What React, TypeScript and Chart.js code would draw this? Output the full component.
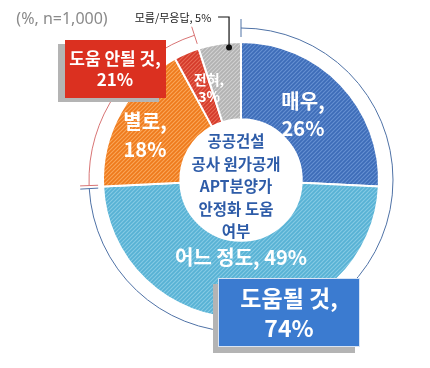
import React, { useEffect, useRef } from 'react';
import { Chart, registerables } from 'chart.js';

Chart.register(...registerables);

const categories = ['매우', '어느 정도', '별로', '전혀', '모름/무응답'];
const values = [26, 49, 18, 3, 5];
const groups = ['도움될 것', '도움 안될 것'];
const groupValues = [74, 21];
const note = '(%, n=1,000)';
const centerTitle = ['공공건설', '공사 원가공개', 'APT분양가', '안정화 도움', '여부'];

const baseColors = ['#3d6cb8', '#57b2d4', '#ee7a1c', '#d43a2a', '#b2b2b2'];
const stripeColors = ['#6690d2', '#86cbe4', '#faa75a', '#e86a55', '#d2d2d2'];

const FONT = '"Noto Sans CJK KR", "Noto Sans", sans-serif';

function makePattern(base: string, stripe: string) {
  const s = 4;
  const c = document.createElement('canvas');
  c.width = s;
  c.height = s;
  const g = c.getContext('2d')!;
  g.fillStyle = base;
  g.fillRect(0, 0, s, s);
  g.strokeStyle = stripe;
  g.lineWidth = 1.1;
  const seg = (x0: number, y0: number, x1: number, y1: number) => {
    g.beginPath();
    g.moveTo(x0, y0);
    g.lineTo(x1, y1);
    g.stroke();
  };
  seg(-1, s + 1, s + 1, -1);
  seg(-1, 1, 1, -1);
  seg(s - 1, s + 1, s + 1, s - 1);
  return g.createPattern(c, 'repeat') as CanvasPattern;
}

const outerArcs = {
  id: 'outerArcs',
  afterDatasetsDraw(chart: any) {
    const arcs = chart.getDatasetMeta(0).data;
    if (!arcs.length) return;
    const p0 = arcs[0].getProps(['x', 'y', 'outerRadius'], true);
    const x = p0.x;
    const y = p0.y;
    const R = p0.outerRadius;
    const r = R + 14;
    const ctx = chart.ctx;
    const ang = (i: number, k: string) => arcs[i].getProps([k], true)[k];
    const draw = (a0: number, a1: number, color: string) => {
      ctx.save();
      ctx.strokeStyle = color;
      ctx.lineWidth = 1;
      ctx.beginPath();
      ctx.arc(x, y, r, a0, a1);
      ctx.stroke();
      for (const a of [a0, a1]) {
        ctx.beginPath();
        ctx.moveTo(x + Math.cos(a) * (r - 9), y + Math.sin(a) * (r - 9));
        ctx.lineTo(x + Math.cos(a) * (r + 9), y + Math.sin(a) * (r + 9));
        ctx.stroke();
      }
      ctx.restore();
    };
    draw(ang(0, 'startAngle'), ang(1, 'endAngle') - 0.01, '#4f72a6');
    draw(ang(2, 'startAngle') + 0.01, ang(3, 'endAngle'), '#d87474');

    // leader for the small gray slice
    const a = ang(4, 'endAngle') - 0.09;
    const dx = x + Math.cos(a) * (R - 5);
    const dy = y + Math.sin(a) * (R - 5);
    ctx.save();
    ctx.strokeStyle = '#111';
    ctx.lineWidth = 1.2;
    ctx.beginPath();
    ctx.moveTo(dx - 11, 17);
    ctx.lineTo(dx, 17);
    ctx.lineTo(dx, dy);
    ctx.stroke();
    ctx.fillStyle = '#111';
    ctx.beginPath();
    ctx.arc(dx, dy, 3, 0, Math.PI * 2);
    ctx.fill();
    ctx.restore();
  },
};

function Label(props: {
  x: number;
  y: number;
  lines: string[];
  size: number;
  lh: number;
  color?: string;
  weight?: number;
  family?: string;
}) {
  return (
    <div
      style={{
        position: 'absolute',
        left: props.x,
        top: props.y,
        transform: 'translate(-50%, -50%)',
        whiteSpace: 'nowrap',
        textAlign: 'center',
        fontFamily: props.family || FONT,
        fontSize: props.size,
        lineHeight: props.lh + 'px',
        fontWeight: props.weight ?? 700,
        color: props.color || '#ffffff',
      }}
    >
      {props.lines.map((l, i) => (
        <div key={i}>{l}</div>
      ))}
    </div>
  );
}

export default function App() {
  const ref = useRef<HTMLCanvasElement>(null);

  useEffect(() => {
    const canvas = ref.current!;
    const patterns = baseColors.map((b, i) => makePattern(b, stripeColors[i]));
    const chart = new Chart(canvas, {
      type: 'doughnut',
      data: {
        labels: categories,
        datasets: [
          {
            data: values,
            backgroundColor: patterns,
            borderColor: '#ffffff',
            borderWidth: 2,
          },
        ],
      },
      options: {
        responsive: false,
        animation: false,
        cutout: '44%',
        layout: { padding: { left: 102, right: 50, top: 41, bottom: 49 } },
        plugins: {
          legend: { display: false },
          tooltip: { enabled: false },
        },
      },
      plugins: [outerArcs],
    });
    return () => chart.destroy();
  }, []);

  return (
    <div
      style={{
        position: 'fixed',
        left: 0,
        top: 0,
        width: 430,
        height: 368,
        background: '#ffffff',
        overflow: 'hidden',
      }}
    >
      <canvas ref={ref} width={430} height={368} style={{ position: 'absolute', left: 0, top: 0 }} />

      <Label x={62} y={18} lines={[note]} size={16} lh={20} color="#8a8a8a" weight={400} family='"Noto Sans", sans-serif' />
      <Label x={173} y={17} lines={[`${categories[4]}, ${values[4]}%`]} size={11} lh={14} color="#222" weight={400} />

      <Label x={303} y={114} lines={[`${categories[0]},`, `${values[0]}%`]} size={20} lh={27} />
      <Label x={145} y={135} lines={[`${categories[2]},`, `${values[2]}%`]} size={20} lh={28} />
      <Label x={209} y={88} lines={[`${categories[3]},`, `${values[3]}%`]} size={14} lh={17} />
      <Label x={241} y={257} lines={[`${categories[1]}, ${values[1]}%`]} size={20} lh={24} />

      <Label x={236} y={185} lines={centerTitle} size={15.5} lh={22.5} color="#2e5ca8" />

      <div
        style={{
          position: 'absolute',
          left: 65,
          top: 40,
          width: 101,
          height: 58,
          background: '#db3020',
          boxShadow: '-7px 4px 0 #b4b4b4',
        }}
      />
      <Label x={115} y={68} lines={[`${groups[1]},`, `${groupValues[1]}%`]} size={17} lh={21} />

      <div
        style={{
          position: 'absolute',
          left: 218,
          top: 278,
          width: 142,
          height: 69,
          boxSizing: 'border-box',
          background: '#3b7bd0',
          border: '1px solid #d8e4f4',
          boxShadow: '-5px 6px 0 #b4b4b4',
        }}
      />
      <Label x={289} y={312} lines={[`${groups[0]},`, `${groupValues[0]}%`]} size={23} lh={30} />
    </div>
  );
}
